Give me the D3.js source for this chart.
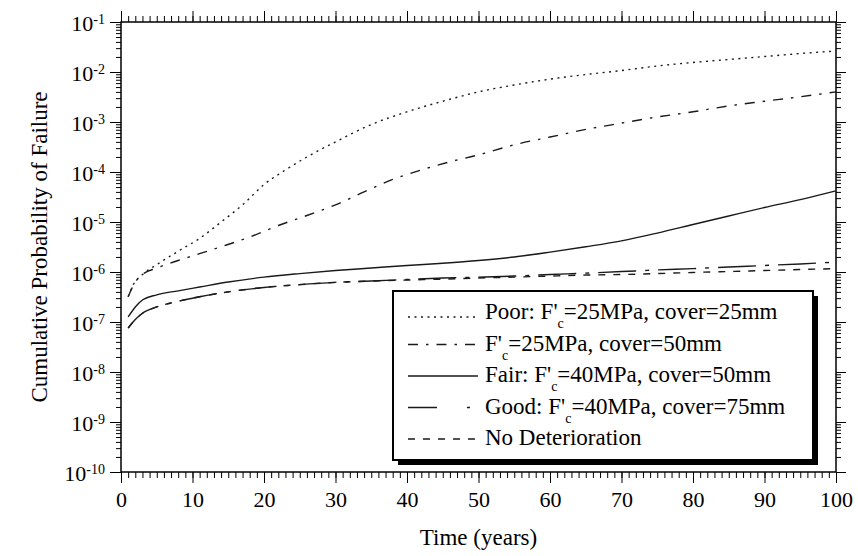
<!DOCTYPE html>
<html>
<head>
<meta charset="utf-8">
<script src="https://cdn.jsdelivr.net/npm/d3@7"></script>
<style>
  body { margin: 0; background: #fff; }
  svg { display: block; font-family: "Liberation Serif", "Times New Roman", Times, Tinos, "DejaVu Serif", "Noto Serif", serif; }
  .axis path { display: none; }
  .axis line { stroke: #000; stroke-width: 1; }
  .axis text { fill: #000; font-size: 22px; font-family: "Liberation Serif", "Times New Roman", Times, Tinos, "DejaVu Serif", "Noto Serif", serif; }
</style>
</head>
<body>
<svg id="chart" width="858" height="556"></svg>
<script>
// time (years) and cumulative probability of failure
const timePoor = [1, 1.7, 3, 5, 8, 11, 14, 17, 20, 23, 26, 30, 35, 40, 45, 50, 55, 60, 65, 70, 75, 80, 85, 90, 95, 100];
const probPoor = [3.2e-7, 5.5e-7, 8.9e-7, 1.4e-6, 2.6e-6, 4.7e-6, 1.0e-5, 2.2e-5, 5.6e-5, 1.1e-4, 2.0e-4, 4.0e-4, 8.9e-4,
                  1.6e-3, 2.6e-3, 4.0e-3, 5.5e-3, 7.2e-3, 8.9e-3, 1.07e-2, 1.32e-2, 1.55e-2, 1.78e-2, 2.04e-2, 2.34e-2, 2.63e-2];

const timeMid = [1, 2, 3, 5, 8, 10, 14, 18, 22, 26, 30, 34, 38, 42, 46, 50, 55, 60, 65, 70, 75, 80, 85, 90, 95, 100];
const probMid = [3.2e-7, 6.3e-7, 8.9e-7, 1.2e-6, 1.7e-6, 2.1e-6, 3.2e-6, 5.0e-6, 8.5e-6, 1.35e-5, 2.2e-5, 4.0e-5, 7.1e-5,
                 1.1e-4, 1.6e-4, 2.2e-4, 3.5e-4, 5.0e-4, 7.1e-4, 9.5e-4, 1.26e-3, 1.6e-3, 2.1e-3, 2.6e-3, 3.2e-3, 4.0e-3];

const timeOther = [1, 2, 3, 5, 8, 11, 15, 20, 25, 30, 35, 40, 45, 50, 55, 60, 65, 70, 75, 80, 85, 90, 95, 100];
const probFair = [1.26e-7, 2.0e-7, 2.75e-7, 3.5e-7, 4.2e-7, 5.0e-7, 6.3e-7, 7.9e-7, 9.3e-7, 1.07e-6, 1.2e-6, 1.35e-6,
                  1.5e-6, 1.7e-6, 2.0e-6, 2.5e-6, 3.2e-6, 4.2e-6, 6.0e-6, 8.9e-6, 1.32e-5, 1.95e-5, 2.8e-5, 4.2e-5];
const probGood = [7.6e-8, 1.12e-7, 1.5e-7, 2.0e-7, 2.6e-7, 3.2e-7, 4.0e-7, 4.9e-7, 5.6e-7, 6.2e-7, 6.6e-7, 7.1e-7,
                  7.6e-7, 7.9e-7, 8.3e-7, 8.9e-7, 9.5e-7, 1.02e-6, 1.1e-6, 1.17e-6, 1.26e-6, 1.35e-6, 1.45e-6, 1.58e-6];
const probNoDet = [7.6e-8, 1.12e-7, 1.5e-7, 2.0e-7, 2.6e-7, 3.2e-7, 4.0e-7, 4.9e-7, 5.6e-7, 6.2e-7, 6.6e-7, 6.9e-7,
                   7.2e-7, 7.6e-7, 7.9e-7, 8.3e-7, 8.7e-7, 8.9e-7, 9.3e-7, 9.8e-7, 1.02e-6, 1.07e-6, 1.12e-6, 1.17e-6];

const xTickLabels = [0, 10, 20, 30, 40, 50, 60, 70, 80, 90, 100];
const yTickExponents = [-10, -9, -8, -7, -6, -5, -4, -3, -2, -1];

const seriesNames = [
    {pre: "Poor: F'", post: "=25MPa, cover=25mm"},
    {pre: "F'", post: "=25MPa, cover=50mm"},
    {pre: "Fair: F'", post: "=40MPa, cover=50mm"},
    {pre: "Good: F'", post: "=40MPa, cover=75mm"},
    {pre: "No Deterioration", post: null}
];

const margin = {top: 22, right: 22, bottom: 84, left: 121};
const width = 858 - margin.left - margin.right;
const height = 556 - margin.top - margin.bottom;

const svg = d3.select("#chart");
const g = svg.append("g").attr("transform", "translate(" + margin.left + "," + margin.top + ")");

const x = d3.scaleLinear().domain([0, 100]).range([0, width]);
const y = d3.scaleLog().domain([1e-10, 1e-1]).range([height, 0]);

const xMinor = d3.range(0, 101);
const yMajor = yTickExponents.map(e => Math.pow(10, e));
const yMinor = [];
yTickExponents.slice(0, -1).forEach(e => {
    for (let k = 2; k <= 9; k++) yMinor.push(k * Math.pow(10, e));
});

// minor ticks
g.append("g").attr("class", "axis").attr("transform", "translate(0," + height + ")")
    .call(d3.axisBottom(x).tickValues(xMinor).tickSize(6).tickSizeOuter(0).tickFormat(""));
g.append("g").attr("class", "axis")
    .call(d3.axisTop(x).tickValues(xMinor).tickSize(6).tickSizeOuter(0).tickFormat(""));
g.append("g").attr("class", "axis")
    .call(d3.axisLeft(y).tickValues(yMinor).tickSize(5).tickSizeOuter(0).tickFormat(""));
g.append("g").attr("class", "axis").attr("transform", "translate(" + width + ",0)")
    .call(d3.axisRight(y).tickValues(yMinor).tickSize(5).tickSizeOuter(0).tickFormat(""));

// major ticks
g.append("g").attr("class", "axis").attr("transform", "translate(0," + height + ")")
    .call(d3.axisBottom(x).tickValues(xTickLabels).tickSize(11).tickPadding(8).tickSizeOuter(0).tickFormat(d3.format("d")));
g.append("g").attr("class", "axis")
    .call(d3.axisTop(x).tickValues(xTickLabels).tickSize(11).tickSizeOuter(0).tickFormat(""));
g.append("g").attr("class", "axis").attr("transform", "translate(" + width + ",0)")
    .call(d3.axisRight(y).tickValues(yMajor).tickSize(10).tickSizeOuter(0).tickFormat(""));

const yAxis = g.append("g").attr("class", "axis")
    .call(d3.axisLeft(y).tickValues(yMajor).tickSize(11).tickPadding(5).tickSizeOuter(0).tickFormat(""));
yAxis.selectAll(".tick text").each(function (d) {
    const t = d3.select(this).attr("dy", "0.38em");
    t.append("tspan").text("10");
    t.append("tspan").attr("dy", "-0.5em").attr("font-size", "14px").text(Math.round(Math.log10(d)));
});

// frame
g.append("rect").attr("width", width).attr("height", height)
    .attr("fill", "none").attr("stroke", "#000").attr("stroke-width", 1.5);

// curves
const line = d3.line()
    .x(d => x(d[0]))
    .y(d => y(d[1]))
    .curve(d3.curveMonotoneX);

const dashes = ["2,4.5", "10,8,2.5,8", null, "38,9,4,9", "7,8"];
const curves = [
    d3.zip(timePoor, probPoor),
    d3.zip(timeMid, probMid),
    d3.zip(timeOther, probFair),
    d3.zip(timeOther, probGood),
    d3.zip(timeOther, probNoDet)
];

g.selectAll("path.curve")
    .data(curves)
    .enter().append("path")
    .attr("class", "curve")
    .attr("d", line)
    .attr("fill", "none")
    .attr("stroke", "#1a1a1a")
    .attr("stroke-width", 1.4)
    .attr("stroke-dasharray", (d, i) => dashes[i]);

// legend
const legend = svg.append("g").attr("transform", "translate(393,291)");
legend.append("rect").attr("x", 5).attr("y", 5).attr("width", 420).attr("height", 169).attr("fill", "#000");
legend.append("rect").attr("width", 420).attr("height", 169)
    .attr("fill", "#fff").attr("stroke", "#000").attr("stroke-width", 2);

const rows = legend.selectAll("g.row")
    .data(seriesNames)
    .enter().append("g")
    .attr("class", "row")
    .attr("transform", (d, i) => "translate(0," + (28 + i * 31.5) + ")");

rows.append("line")
    .attr("x1", 15).attr("x2", 85)
    .attr("y1", (d, i) => i === 0 ? -2 : -6).attr("y2", (d, i) => i === 0 ? -2 : -6)
    .attr("stroke", "#1a1a1a").attr("stroke-width", 1.3)
    .attr("stroke-dasharray", (d, i) => i === 3 ? "29,30,3,20" : dashes[i]);

rows.append("text")
    .attr("x", 92)
    .attr("font-size", "23px")
    .each(function (d) {
        const t = d3.select(this);
        t.append("tspan").text(d.pre);
        if (d.post) {
            t.append("tspan").attr("dy", 9).attr("font-size", "14px").text("c");
            t.append("tspan").attr("dy", -9).text(d.post);
        }
    });

// axis titles
svg.append("text")
    .attr("x", margin.left + width / 2).attr("y", 545)
    .attr("text-anchor", "middle").attr("font-size", "23px")
    .text("Time (years)");

svg.append("text")
    .attr("transform", "translate(47," + (margin.top + height / 2) + ") rotate(-90)")
    .attr("text-anchor", "middle").attr("font-size", "23px")
    .text("Cumulative Probability of Failure");
</script>
</body>
</html>
